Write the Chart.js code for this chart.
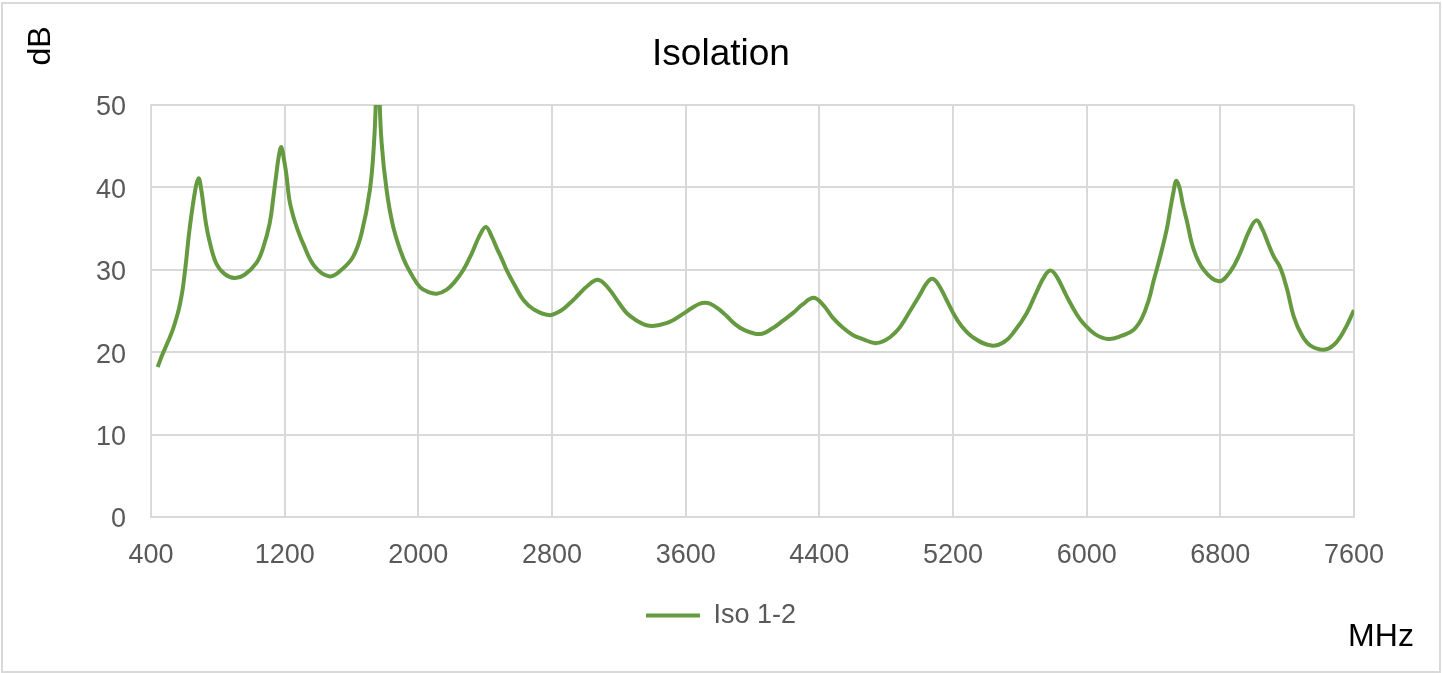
<!DOCTYPE html>
<html>
<head>
<meta charset="utf-8">
<title>Isolation</title>
<script src="https://cdn.jsdelivr.net/npm/chart.js@4.4.1/dist/chart.umd.min.js"></script>
<style>
  html, body { margin: 0; padding: 0; background: #fff; }
</style>
</head>
<body>
<canvas id="isoChart" width="1442" height="673"></canvas>
<script>
// Frequency points (MHz) and isolation (dB)
const freqMHz = [
  440, 470, 500, 530, 560, 575, 590, 600, 610, 630, 665, 685, 701, 729, 750, 790, 840, 900, 960,
  1030, 1070, 1110, 1133, 1150, 1165, 1180, 1195, 1210, 1228, 1250, 1270, 1310, 1380, 1470, 1540, 1610, 1660,
  1710, 1735, 1748, 1757, 1766, 1780, 1810, 1850, 1910, 1960, 2010, 2060, 2110, 2170,
  2220, 2270, 2320, 2370, 2405, 2440, 2470, 2500, 2530, 2580, 2630, 2690, 2780, 2850, 2910,
  2960, 3010, 3075, 3140, 3200, 3250, 3310, 3360, 3415, 3480, 3530, 3584, 3640, 3680, 3715,
  3750, 3800, 3850, 3890, 3950, 4045, 4120, 4180, 4245, 4300, 4365, 4420, 4480, 4540, 4600,
  4660, 4735, 4800, 4850, 4885, 4940, 5000, 5040, 5075, 5110, 5160, 5200, 5250, 5320,
  5430, 5510, 5570, 5640, 5700, 5750, 5785, 5820, 5880, 5940, 5980, 6050, 6130, 6210,
  6280, 6330, 6371, 6400, 6440, 6480, 6500, 6520, 6535, 6555, 6575, 6600, 6640, 6700, 6790,
  6860, 6920, 6970, 7015, 7050, 7090, 7120, 7160, 7200, 7240, 7290, 7340, 7420, 7480,
  7540, 7600
];
const iso12 = [
  18.2, 19.8, 21.2, 22.7, 24.7, 26.0, 27.7, 29.3, 31.0, 34.8, 39.7, 41.1, 39.7, 35.6, 33.5, 30.8, 29.5, 29.0, 29.4,
  30.8, 32.6, 35.6, 38.9, 41.6, 43.8, 44.9, 43.5, 41.6, 38.5, 36.6, 35.3, 33.2, 30.4, 29.2, 30.0, 31.6, 34.4,
  39.7, 45.5, 52.0, 60.0, 52.0, 45.5, 39.7, 35.2, 31.4, 29.4, 27.9, 27.3, 27.1, 27.6,
  28.6, 30.0, 32.0, 34.3, 35.2, 34.0, 32.6, 31.3, 29.9, 28.0, 26.3, 25.2, 24.5, 25.0, 26.0,
  27.0, 28.0, 28.8, 27.7, 26.0, 24.7, 23.8, 23.3, 23.2, 23.5, 23.95, 24.65, 25.4, 25.85, 26.0,
  25.85, 25.2, 24.3, 23.5, 22.7, 22.2, 22.9, 23.8, 24.8, 25.8, 26.6, 25.8, 24.2, 23.0, 22.1,
  21.6, 21.1, 21.5, 22.3, 23.1, 24.9, 26.9, 28.3, 28.9, 28.3, 26.4, 24.8, 23.2, 21.8,
  20.8, 21.3, 22.6, 24.7, 27.3, 29.3, 29.9, 29.2, 26.8, 24.6, 23.5, 22.2, 21.6, 22.0,
  22.7, 24.1, 26.3, 28.6, 31.6, 35.0, 37.3, 39.5, 40.8, 40.0, 38.0, 35.9, 32.5, 30.0, 28.6,
  29.8, 32.1, 34.6, 36.0, 35.0, 33.0, 31.6, 30.2, 27.6, 24.3, 22.0, 20.8, 20.3, 20.9,
  22.6, 25.1
];
const xTicks = [400, 1200, 2000, 2800, 3600, 4400, 5200, 6000, 6800, 7600];
const yTicks = [0, 10, 20, 30, 40, 50];

const FONT = "'Liberation Sans', Arial, sans-serif";
Chart.defaults.font.family = FONT;

// white background, light frame, and the two loose axis captions
const chartFrame = {
  id: "chartFrame",
  beforeDraw(chart) {
    const ctx = chart.ctx;
    ctx.save();
    ctx.fillStyle = "#fff";
    ctx.fillRect(0, 0, chart.width, chart.height);
    ctx.strokeStyle = "#d9d9d9";
    ctx.lineWidth = 2;
    ctx.strokeRect(2, 3, chart.width - 4, chart.height - 4);
    ctx.restore();
  },
  afterDraw(chart) {
    const ctx = chart.ctx;
    ctx.save();
    ctx.fillStyle = "#000";
    ctx.font = "32px " + FONT;
    ctx.textAlign = "center";
    ctx.textBaseline = "middle";
    ctx.fillText("MHz", 1381, 637);
    ctx.translate(41, 46);
    ctx.rotate(-Math.PI / 2);
    ctx.fillText("dB", 0, 0);
    ctx.restore();
  }
};

const gridStyle = { color: "#d9d9d9", lineWidth: 2, drawTicks: false };
const tickFont = { size: 27 };

new Chart(document.getElementById("isoChart"), {
  type: "line",
  data: {
    labels: freqMHz,
    datasets: [{
      label: "Iso 1-2",
      data: freqMHz.map((f, i) => ({ x: f, y: iso12[i] })),
      borderColor: "#659a40",
      backgroundColor: "#659a40",
      borderWidth: 4,
      pointRadius: 0,
      tension: 0.4,
      clip: 0
    }]
  },
  options: {
    responsive: false,
    animation: false,
    layout: { padding: { left: 0, right: 0, top: 0, bottom: 34 } },
    plugins: {
      title: {
        display: true,
        text: "Isolation",
        color: "#000",
        font: { size: 37, weight: "normal" },
        padding: { top: 33, bottom: 27.6 }
      },
      legend: {
        position: "bottom",
        labels: {
          usePointStyle: true,
          pointStyle: "line",
          pointStyleWidth: 54,
          color: "#595959",
          font: { size: 27 },
          padding: 25
        }
      },
      tooltip: { enabled: false }
    },
    scales: {
      x: {
        type: "linear",
        min: 400,
        max: 7600,
        afterBuildTicks: s => { s.ticks = xTicks.map(v => ({ value: v })); },
        afterFit: s => { s.height = 60; },
        ticks: { color: "#595959", font: tickFont, padding: 22, maxRotation: 0, callback: v => String(v) },
        grid: gridStyle,
        border: { color: "#d9d9d9", width: 2 }
      },
      y: {
        min: 0,
        max: 50,
        afterBuildTicks: s => { s.ticks = yTicks.map(v => ({ value: v })); },
        afterFit: s => { s.width = 151; },
        ticks: { color: "#595959", font: tickFont, padding: 25, labelOffset: 3, callback: v => String(v) },
        grid: gridStyle,
        border: { color: "#d9d9d9", width: 2 }
      },
      // empty right-hand strip so the plot stops short of the frame
      yGap: {
        position: "right",
        min: 0,
        max: 50,
        afterFit: s => { s.width = 88; },
        ticks: { display: false },
        grid: { display: false, drawTicks: false },
        border: { display: false }
      }
    }
  },
  plugins: [chartFrame]
});
</script>
</body>
</html>
